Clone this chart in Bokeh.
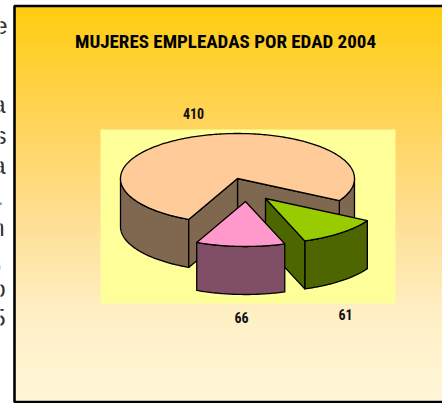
import numpy as np
from bokeh.plotting import figure
from bokeh.models import ColumnDataSource
from bokeh.core.properties import value
from bokeh.embed import file_html
from bokeh.resources import INLINE

# ---- chart data ----
title_text = "MUJERES EMPLEADAS POR EDAD 2004"
slice_values = [410, 66, 61]
slice_names = ["main", "pink", "green"]
clipped_line_ends = ["y", "e", "a", "s", "a", ".", "n", ",", "o", "5"]

# ---- layout / style ----
W, H = 442, 403
RX, RY, DEPTH = 117, 45, 48
CENTERS = {"main": (237, 178), "pink": (245, 201), "green": (265, 198)}
TOP = {"main": "#FFCC99", "pink": "#FF99CC", "green": "#99CC00"}
SIDE = {"main": "#806850", "pink": "#804F66", "green": "#4D6600"}
LABEL_POS = {"main": (193, 113), "pink": (241, 317), "green": (345, 314)}
LINE_Y = [-5, 25, 104, 135, 165, 196, 227, 259, 288, 317]
LINE_RIGHT = [3, 7, 5, 6, 5, 3, 4, 2, 5, 5]
START_DEG = 29.5  # screen-clockwise angle of the first gap edge

p = figure(width=W, height=H, x_range=(0, W), y_range=(H, 0), output_backend="svg",
           toolbar_location=None, min_border=0, outline_line_color=None,
           background_fill_color="white", border_fill_color="white",
           styles={"position": "absolute", "left": "0px", "top": "0px"})
p.axis.visible = False
p.grid.visible = False


def lerp(c0, c1, t):
    return "#%02x%02x%02x" % tuple(int(round(a + (b - a) * t)) for a, b in zip(c0, c1))


# panel gradient: each strip runs to the panel's foot, so no seams appear
stops_y = [6, 129, 220, 310, 400]
stops_c = [(255, 204, 16), (255, 213, 96), (254, 223, 148), (255, 239, 196), (255, 246, 216)]
rows = np.arange(6, 401, 2)
cols = []
for y in rows:
    i = min(int(np.searchsorted(stops_y, y, side="right")) - 1, len(stops_c) - 2)
    cols.append(lerp(stops_c[i], stops_c[i + 1], (y - stops_y[i]) / (stops_y[i + 1] - stops_y[i])))
p.quad(left=14, right=W + 5, top=rows, bottom=401, fill_color=cols, line_color=None)
p.quad(left=[14], right=[W + 5], top=[5.5], bottom=[401.5], fill_color=None,
       line_color="black", line_width=2.6)
p.quad(left=[100], right=[395], top=[129], bottom=[303], fill_color="#FFFF99", line_color=None)


def pt(name, deg, dz=0):
    cx, cy = CENTERS[name]
    a = np.radians(deg)
    return cx + RX * np.cos(a), cy + RY * np.sin(a) + dz


def arc(name, d0, d1, dz=0):
    n = max(int(abs(d1 - d0)) + 2, 2)
    pts = [pt(name, d, dz) for d in np.linspace(d0, d1, n)]
    return [q[0] for q in pts], [q[1] for q in pts]


def poly(xs, ys, color):
    p.patch(xs, ys, fill_color=color, line_color="black", line_width=1.3, line_join="round")


def wall(name, d0, d1):
    x0, y0 = arc(name, d0, d1)
    x1, y1 = arc(name, d1, d0, DEPTH)
    poly(x0 + x1, y0 + y1, SIDE[name])


def radial_face(name, deg):
    cx, cy = CENTERS[name]
    ex, ey = pt(name, deg)
    poly([cx, ex, ex, cx], [cy, ey, ey + DEPTH, cy + DEPTH], SIDE[name])


def top(name, d0, d1):
    cx, cy = CENTERS[name]
    xs, ys = arc(name, d0, d1)
    poly([cx] + xs, [cy] + ys, TOP[name])


total = sum(slice_values)
deg = [v / total * 360 for v in slice_values]
g0 = START_DEG
g1 = g0 + deg[2]          # green slice
k0 = g1
k1 = k0 + deg[1]          # pink slice
m0 = k1
m1 = m0 + deg[0]          # main slice, ends at 360 + START_DEG

# main slice
wall("main", 360, m1)
wall("main", m0, 180)
radial_face("main", m1)
radial_face("main", m0)
top("main", m0, m1)
# green slice
wall("green", g0, g1)
radial_face("green", g1)
top("green", g0, g1)
# pink slice
wall("pink", k0, k1)
top("pink", k0, k1)

# texts
p.text([225], [41], text=[title_text], text_font=value("Roboto Condensed"),
       text_font_style="bold", text_font_size="19px", text_align="center",
       text_baseline="middle", text_color="#000000")
lab = ColumnDataSource(dict(
    x=[LABEL_POS[n][0] for n in slice_names],
    y=[LABEL_POS[n][1] for n in slice_names],
    t=[str(v) for v in slice_values]))
p.text("x", "y", text="t", source=lab, text_font=value("Roboto Condensed"),
       text_font_style="bold", text_font_size="14px", text_align="center",
       text_baseline="middle", text_color="#111111")
side = ColumnDataSource(dict(x=LINE_RIGHT, y=LINE_Y, t=clipped_line_ends))
p.text("x", "y", text="t", source=side, text_font=value("Liberation Sans"),
       text_font_size="24px", text_align="right", text_baseline="middle",
       text_color="#333333")

open("out.html", "w").write(file_html(p, INLINE))
